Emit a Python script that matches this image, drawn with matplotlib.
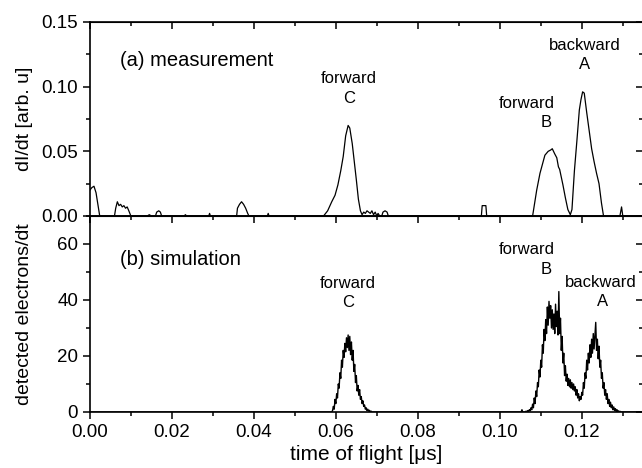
import numpy as np
import matplotlib
matplotlib.use("Agg")
import matplotlib.pyplot as plt
from matplotlib.ticker import MultipleLocator

plt.rcParams['font.family'] = ['Liberation Sans', 'DejaVu Sans']

meas_t = [0.0000, 0.0005, 0.0010, 0.0015, 0.0020, 0.0024, 0.0060, 0.0063, 0.0067, 0.0071,
          0.0075, 0.0079, 0.0083, 0.0087, 0.0091, 0.0095, 0.0100, 0.0140, 0.0145, 0.0150,
          0.0160, 0.0163, 0.0168, 0.0172, 0.0175, 0.0230, 0.0233, 0.0236, 0.0290, 0.0292,
          0.0294, 0.0358, 0.0360, 0.0365, 0.0370, 0.0375, 0.0380, 0.0385, 0.0388, 0.0433,
          0.0435, 0.0437, 0.0570, 0.0580, 0.0590, 0.0598, 0.0605, 0.0612, 0.0618, 0.0624,
          0.0630, 0.0634, 0.0640, 0.0645, 0.0650, 0.0655, 0.0660, 0.0664, 0.0668, 0.0672,
          0.0676, 0.0680, 0.0684, 0.0688, 0.0692, 0.0696, 0.0700, 0.0703, 0.0707, 0.0712,
          0.0715, 0.0720, 0.0725, 0.0728, 0.0955, 0.0957, 0.0966, 0.0968, 0.1080, 0.1090,
          0.1098, 0.1104, 0.1110, 0.1118, 0.1124, 0.1128, 0.1134, 0.1139, 0.1143, 0.1146,
          0.1150, 0.1154, 0.1160, 0.1166, 0.1172, 0.1176, 0.1182, 0.1188, 0.1194, 0.1198,
          0.1202, 0.1206, 0.1212, 0.1218, 0.1224, 0.1230, 0.1236, 0.1242, 0.1248, 0.1253,
          0.1293, 0.1297, 0.1300, 0.1350]
meas_y = [0.020, 0.022, 0.023, 0.018, 0.008, 0.000, 0.000, 0.006, 0.011, 0.008,
          0.009, 0.007, 0.008, 0.006, 0.007, 0.004, 0.000, 0.000, 0.001, 0.000,
          0.000, 0.003, 0.004, 0.003, 0.000, 0.000, 0.001, 0.000, 0.000, 0.002,
          0.000, 0.000, 0.006, 0.009, 0.011, 0.009, 0.006, 0.002, 0.000, 0.000,
          0.002, 0.000, 0.000, 0.004, 0.011, 0.016, 0.024, 0.035, 0.046, 0.062,
          0.070, 0.068, 0.056, 0.042, 0.028, 0.013, 0.004, 0.001, 0.003, 0.002,
          0.004, 0.003, 0.002, 0.004, 0.001, 0.003, 0.000, 0.002, 0.000, 0.000,
          0.003, 0.004, 0.003, 0.000, 0.000, 0.008, 0.008, 0.000, 0.000, 0.020,
          0.033, 0.040, 0.047, 0.050, 0.051, 0.052, 0.048, 0.045, 0.038, 0.036,
          0.030, 0.024, 0.014, 0.005, 0.001, 0.005, 0.035, 0.058, 0.082, 0.090,
          0.096, 0.095, 0.080, 0.066, 0.052, 0.042, 0.033, 0.025, 0.010, 0.000,
          0.000, 0.007, 0.000, 0.000]

# (b) simulation, sampled every 0.0002 us
sim_step = 0.0002
simC_t0 = 0.0590
simC_y = [0.0, 0.5, 2.0, 1.0, 4.5, 3.0, 6.5, 5.0, 10.0, 8.5,
          14.0, 12.0, 18.5, 16.0, 22.0, 19.5, 24.5, 21.5, 26.5, 23.0,
          27.5, 22.0, 27.0, 20.5, 25.0, 18.5, 22.0, 14.5, 17.0, 10.5,
          13.0, 7.5, 9.5, 6.0, 8.0, 4.5, 5.5, 3.0, 4.0, 2.0,
          2.5, 1.0, 1.5, 0.5, 1.0, 0.3, 0.6, 0.0, 0.3, 0.0, 0.0]
simAB_t0 = 0.1050
simAB_y = [0.0, 0.0, 0.8, 0.0, 0.0, 0.0, 0.0, 0.3, 0.0, 0.5,
           0.2, 0.8, 0.4, 1.5, 0.8, 2.8, 1.5, 5.0, 3.0, 7.5,
           5.5, 10.5, 9.0, 15.0, 12.5, 18.5, 16.0, 24.0, 21.0, 29.5,
           25.5, 33.0, 28.0, 37.5, 31.0, 39.5, 33.5, 38.0, 30.0, 36.5,
           29.5, 35.0, 28.0, 38.5, 30.5, 36.0, 27.5, 43.0, 28.0, 33.5,
           22.0, 27.0, 17.5, 21.0, 13.0, 16.5, 11.0, 13.5, 9.5, 12.0,
           9.0, 11.5, 8.5, 10.5, 8.0, 10.0, 7.5, 9.0, 6.0, 8.0,
           5.0, 6.5, 4.0, 5.5, 4.5, 7.0, 6.0, 10.5, 8.5, 14.0,
           12.0, 18.5, 15.0, 21.0, 17.5, 24.0, 19.5, 26.0, 21.0, 28.0,
           22.5, 27.0, 32.0, 22.0, 26.0, 19.0, 23.5, 16.0, 18.5, 12.0,
           14.0, 8.5, 10.5, 6.0, 8.0, 4.5, 6.5, 3.0, 4.5, 2.0,
           3.5, 1.5, 2.5, 0.8, 1.8, 0.5, 1.2, 0.2, 0.8, 0.0,
           0.4, 0.0, 0.2, 0.0, 0.0, 0.0]

simC_t = simC_t0 + sim_step * np.arange(len(simC_y))
simAB_t = simAB_t0 + sim_step * np.arange(len(simAB_y))
sim_t = np.concatenate([[0.0], simC_t, simAB_t, [0.135]])
sim_y = np.concatenate([[0.0], simC_y, simAB_y, [0.0]])

fig = plt.figure(figsize=(6.42, 4.68), dpi=100)
ax1 = fig.add_axes([0.140, 0.5385, 0.862, 0.4145])
ax2 = fig.add_axes([0.140, 0.1197, 0.862, 0.4188])

ax1.plot(meas_t, meas_y, color='black', lw=0.9)
ax2.plot(sim_t, sim_y, color='black', lw=1.0)

ax1.set_ylim(0, 0.15)
ax2.set_ylim(0, 70)
for ax, ymaj, ymin in [(ax1, 0.05, 0.025), (ax2, 20, 10)]:
    ax.set_xlim(0, 0.135)
    ax.xaxis.set_major_locator(MultipleLocator(0.02))
    ax.xaxis.set_minor_locator(MultipleLocator(0.01))
    ax.yaxis.set_major_locator(MultipleLocator(ymaj))
    ax.yaxis.set_minor_locator(MultipleLocator(ymin))
    ax.tick_params(which='both', direction='out', width=1.1, labelsize=13.5)
    ax.tick_params(which='major', length=5)
    ax.tick_params(which='minor', length=3)
    for s in ax.spines.values():
        s.set_linewidth(1.2)
    top = ax.secondary_xaxis('top')
    top.xaxis.set_major_locator(MultipleLocator(0.02))
    top.xaxis.set_minor_locator(MultipleLocator(0.01))
    top.tick_params(which='both', direction='in', width=1.1, labeltop=False)
    top.tick_params(which='major', length=5)
    top.tick_params(which='minor', length=3)
    right = ax.secondary_yaxis('right')
    right.yaxis.set_major_locator(MultipleLocator(ymaj))
    right.yaxis.set_minor_locator(MultipleLocator(ymin))
    right.tick_params(which='both', direction='in', width=1.1, labelright=False)
    right.tick_params(which='major', length=5)
    right.tick_params(which='minor', length=3)

ax1.tick_params(labelbottom=False)
ax1.set_yticks([0.0, 0.05, 0.10, 0.15])
ax1.set_yticklabels(['0.00', '0.05', '0.10', '0.15'])
ax2.set_xticks([0.0, 0.02, 0.04, 0.06, 0.08, 0.10, 0.12])
ax2.set_xticklabels(['0.00', '0.02', '0.04', '0.06', '0.08', '0.10', '0.12'])

ax1.set_ylabel('dI/dt [arb. u]', fontsize=14)
ax2.set_ylabel('detected electrons/dt', fontsize=14)
ax1.yaxis.set_label_coords(-0.103, 0.5)
ax2.yaxis.set_label_coords(-0.103, 0.5)
ax2.set_xlabel('time of flight [\u03bcs]', fontsize=15, labelpad=3)

ax1.text(0.0073, 0.120, '(a) measurement', fontsize=14.5, va='center')
ax1.text(0.0632, 0.106, 'forward', fontsize=12, ha='center', va='center')
ax1.text(0.0632, 0.0905, 'C', fontsize=12, ha='center', va='center')
ax1.text(0.1065, 0.0873, 'forward', fontsize=12, ha='center', va='center')
ax1.text(0.1112, 0.072, 'B', fontsize=12, ha='center', va='center')
ax1.text(0.1207, 0.132, 'backward', fontsize=12, ha='center', va='center')
ax1.text(0.1207, 0.117, 'A', fontsize=12, ha='center', va='center')

ax2.text(0.0073, 54.6, '(b) simulation', fontsize=14.5, va='center')
ax2.text(0.063, 46, 'forward', fontsize=12, ha='center', va='center')
ax2.text(0.063, 39, 'C', fontsize=12, ha='center', va='center')
ax2.text(0.1065, 58, 'forward', fontsize=12, ha='center', va='center')
ax2.text(0.1112, 51, 'B', fontsize=12, ha='center', va='center')
ax2.text(0.1246, 46.4, 'backward', fontsize=12, ha='center', va='center')
ax2.text(0.1251, 39.3, 'A', fontsize=12, ha='center', va='center')

fig.savefig('out.png', dpi=100)
